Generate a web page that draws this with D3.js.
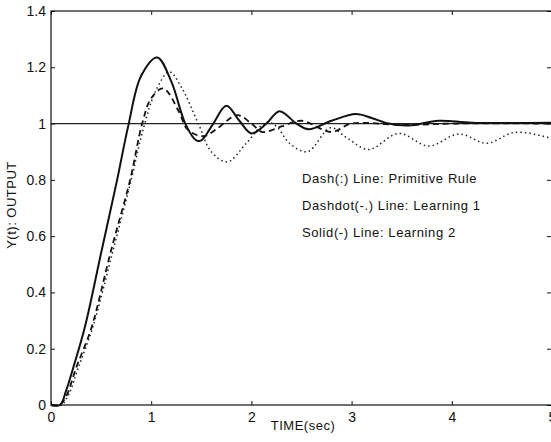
<!doctype html>
<html>
<head>
<meta charset="utf-8"/>
<title>Step response</title>
<script src="https://d3js.org/d3.v7.min.js"></script>
<style>
body { margin: 0; background: #fff; }
text { font-family: "Liberation Sans", Arial, sans-serif; fill: #111; }
</style>
</head>
<body>
<script type="text/javascript">
// tick values
var xTicks = [0, 1, 2, 3, 4, 5];
var yTicks = [0, 0.2, 0.4, 0.6, 0.8, 1, 1.2, 1.4];
var setPoint = 1;

// Dash(:) line - primitive rule
var tPrim = [0, 0.1, 0.18, 0.27, 0.42, 0.62, 0.8, 0.92, 1.05, 1.18, 1.3, 1.47, 1.6, 1.76, 1.95, 2.15, 2.25, 2.38, 2.56, 2.79, 2.95, 3.17, 3.47, 3.77, 4.07, 4.35, 4.63, 5.0];
var yPrim = [0, 0, 0.04, 0.13, 0.28, 0.55, 0.8, 0.98, 1.12, 1.184, 1.13, 1.0, 0.9, 0.864, 0.93, 1.005, 0.99, 0.93, 0.9, 0.985, 0.95, 0.908, 0.965, 0.92, 0.963, 0.93, 0.969, 0.947];

// Dashdot(-.) line - learning 1
var tL1 = [0, 0.08, 0.15, 0.255, 0.4, 0.6, 0.79, 0.91, 1.0, 1.12, 1.28, 1.36, 1.52, 1.65, 1.86, 2.0, 2.11, 2.3, 2.5, 2.8, 3.0, 3.5, 4.0, 5.0];
var yL1 = [0, 0, 0.03, 0.136, 0.27, 0.55, 0.8, 1.0, 1.09, 1.125, 1.04, 0.98, 0.955, 0.98, 1.03, 1.0, 0.97, 0.99, 1.01, 0.97, 1.0, 0.995, 1.0, 1.0];

// Solid(-) line - learning 2
var tL2 = [0, 0.09, 0.15, 0.22, 0.34, 0.5, 0.66, 0.77, 0.9, 1.06, 1.2, 1.34, 1.45, 1.5, 1.62, 1.75, 1.88, 2.0, 2.15, 2.28, 2.45, 2.57, 2.8, 3.04, 3.2, 3.37, 3.57, 3.87, 4.2, 5.0];
var yL2 = [0, 0, 0.05, 0.13, 0.28, 0.54, 0.8, 0.99, 1.17, 1.235, 1.15, 1.0, 0.94, 0.94, 1.0, 1.063, 1.01, 0.965, 1.0, 1.044, 1.0, 0.98, 1.01, 1.034, 1.02, 1.0, 0.993, 1.01, 1.003, 1.003];

var legendLines = ["Dash(:) Line: Primitive Rule", "Dashdot(-.) Line: Learning 1", "Solid(-) Line: Learning 2"];

Draw();

function Draw()
{
  var svg = d3.select("body")
      .append("svg")
      .attr("width", 551)
      .attr("height", 442);

  var mLeft = 51, mRight = 552, mTop = 11, mBottom = 405;

  var x = d3.scaleLinear().domain([0, 5]).range([mLeft, mRight]);
  var y = d3.scaleLinear().domain([0, 1.4]).range([mBottom, mTop]);

  // frame
  svg.append("rect")
      .attr("x", mLeft).attr("y", mTop)
      .attr("width", mRight - mLeft).attr("height", mBottom - mTop)
      .attr("fill", "none").attr("stroke", "#111").attr("stroke-width", 1.2);

  // axes, ticks pointing inward
  svg.append("g").attr("transform", "translate(0," + mBottom + ")")
      .call(d3.axisBottom(x).tickValues(xTicks).tickSizeInner(-4).tickSizeOuter(0).tickPadding(7).tickFormat(d3.format("d")))
      .call(function(g){ g.select(".domain").remove(); });
  svg.append("g").attr("transform", "translate(0," + mTop + ")")
      .call(d3.axisTop(x).tickValues(xTicks).tickSizeInner(-4).tickSizeOuter(0).tickFormat(""))
      .call(function(g){ g.select(".domain").remove(); });
  svg.append("g").attr("transform", "translate(" + mLeft + ",0)")
      .call(d3.axisLeft(y).tickValues(yTicks).tickSizeInner(-4).tickSizeOuter(0).tickPadding(5)
        .tickFormat(function(d){ return (d === 0 || d === 1) ? d3.format("d")(d) : d3.format(".1f")(d); }))
      .call(function(g){ g.select(".domain").remove(); });
  svg.append("g").attr("transform", "translate(" + mRight + ",0)")
      .call(d3.axisRight(y).tickValues(yTicks).tickSizeInner(-5).tickSizeOuter(0).tickFormat(""))
      .call(function(g){ g.select(".domain").remove(); });

  svg.selectAll(".tick line").attr("stroke", "#111");
  svg.selectAll(".tick text").style("font-size", "14px").style("fill", "#111");

  // set point line
  svg.append("line")
      .attr("x1", x(0)).attr("x2", x(5))
      .attr("y1", y(setPoint)).attr("y2", y(setPoint))
      .attr("stroke", "#222").attr("stroke-width", 1.3);

  var line = d3.line()
      .x(function(d){ return x(d[0]); })
      .y(function(d){ return y(d[1]); })
      .curve(d3.curveCatmullRom.alpha(0.5));

  svg.append("path")
      .datum(d3.zip(tPrim, yPrim))
      .attr("d", line)
      .attr("fill", "none").attr("stroke", "#222")
      .attr("stroke-width", 1.5).attr("stroke-dasharray", "1.5,3");

  svg.append("path")
      .datum(d3.zip(tL1, yL1))
      .attr("d", line)
      .attr("fill", "none").attr("stroke", "#111")
      .attr("stroke-width", 1.8).attr("stroke-dasharray", "6,4");

  svg.append("path")
      .datum(d3.zip(tL2, yL2))
      .attr("d", line)
      .attr("fill", "none").attr("stroke", "#111")
      .attr("stroke-width", 2);

  // legend texts
  svg.selectAll(".legend")
      .data(legendLines)
      .enter()
    .append("text")
      .attr("class", "legend")
      .attr("x", 302)
      .attr("y", function(d, i){ return 183 + i * 27; })
      .style("font-size", "13px")
      .style("letter-spacing", "0.6px")
      .text(function(d){ return d; });

  // axis titles
  svg.append("text")
      .attr("x", 303).attr("y", 430)
      .attr("text-anchor", "middle")
      .style("font-size", "13px")
      .style("letter-spacing", "0.5px")
      .text("TIME(sec)");

  svg.append("text")
      .attr("transform", "translate(16,205) rotate(-90)")
      .attr("text-anchor", "middle")
      .style("font-size", "13px")
      .style("letter-spacing", "0.5px")
      .text("Y(t): OUTPUT");
}
</script>
</body>
</html>
